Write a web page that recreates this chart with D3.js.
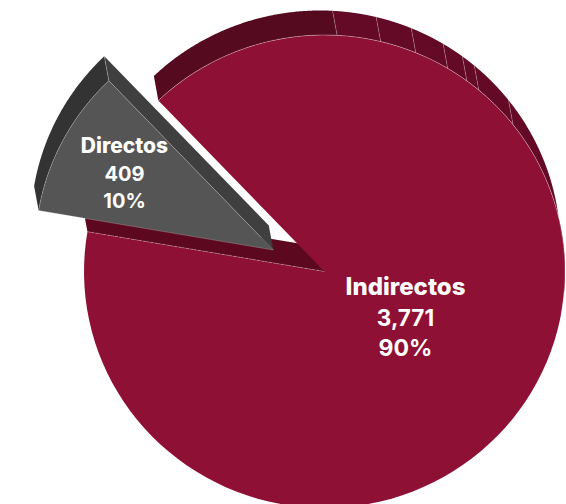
<!DOCTYPE html>
<html><head><meta charset="utf-8">
<script src="https://cdnjs.cloudflare.com/ajax/libs/d3/7.8.5/d3.min.js"></script>
<style>html,body{margin:0;padding:0;background:#fff;overflow:hidden}svg{display:block}text{font-family:Inter,Roboto,sans-serif;font-weight:800;fill:#fff;text-anchor:middle}text.num{font-weight:700}</style>
</head><body><svg id="c" width="566" height="504"></svg>
<script>
const categories = ["Directos", "Indirectos"];
const values = [409, 3771];
const percentLabels = ["10%", "90%"];
const seamDegrees = [3, 13.5, 22.3, 30.8, 36.3, 39.9, 51.6];

const cx = 324.5, cy = 271.5, rx = 240.5, ry = 236.5;
const depth = {x: -4.5, y: -24.5};
const explode = {x: -51.2, y: -21.5, k: 0.99};
const rad = d => d * Math.PI / 180;

const pie = d3.pie().sort(null)(values);
const total = d3.sum(values);
// fraction of the total -> clock angle, calibrated to the picture's slight perspective
const angle = d3.scaleLinear().domain([0, values[0] / total, 1]).range([rad(-80.3), rad(-43.7), rad(279.7)]);
const slices = pie.map(p => ({a0: angle(p.startAngle / (2 * Math.PI)), a1: angle(p.endAngle / (2 * Math.PI))}));

const svg = d3.select("#c");
const line = d3.line();
const zero = {x: 0, y: 0};
const pt = (a, o = zero, k = 1) => [cx + o.x + k * rx * Math.sin(a), cy + o.y - k * ry * Math.cos(a)];
const apex = o => [cx + o.x, cy + o.y];
const sweep = (a0, a1, o, k) => d3.range(0, 121).map(i => pt(a0 + (a1 - a0) * i / 120, o, k));
const seamColor = "rgba(255,255,255,0.32)", edge = "rgba(255,255,255,0.42)";

const m = slices[1];

// Indirectos: inner wall
svg.append("path").attr("d", line([apex(zero), pt(m.a1), pt(m.a1, depth), apex(depth)]) + "Z").attr("fill", "#5c0920");

// Indirectos: outer wall, split at the seams
const stops = [m.a0, ...seamDegrees.map(rad), rad(95)];
const wallColors = ["#560a20", "#640a26", "#640a26", "#640a26", "#640a26", "#640a26", "#640a26", "#640a26"];
d3.pairs(stops).forEach(([a, b], i) => {
  svg.append("path")
    .attr("d", line([...sweep(a, b, zero), ...sweep(b, a, depth)]) + "Z")
    .attr("fill", wallColors[i]);
});
seamDegrees.map(rad).forEach(a => {
  svg.append("path").attr("d", line([pt(a), pt(a, depth)])).attr("stroke", seamColor).attr("stroke-width", 0.7).attr("fill", "none");
});

// Indirectos: face
svg.append("path")
  .attr("d", line([apex(zero), ...sweep(m.a0, m.a1, zero)]) + "Z")
  .attr("fill", "#8f1035");
svg.append("path")
  .attr("d", line(sweep(m.a0, rad(100), zero)))
  .attr("fill", "none").attr("stroke", edge).attr("stroke-width", 0.7);
svg.append("path")
  .attr("d", line([pt(m.a1), apex(zero)]))
  .attr("fill", "none").attr("stroke", edge).attr("stroke-width", 0.7).attr("stroke-dasharray", "3 1");

// Directos: exploded wedge
const d0 = slices[0], back = {x: explode.x + depth.x, y: explode.y + depth.y}, kk = explode.k;
svg.append("path").attr("d", line([apex(explode), pt(d0.a1, explode, kk), pt(d0.a1, back, kk), apex(back)]) + "Z").attr("fill", "#3f3f3f");
svg.append("path").attr("d", line([...sweep(d0.a0, d0.a1, explode, kk), ...sweep(d0.a1, d0.a0, back, kk)]) + "Z").attr("fill", "#333333");
svg.append("path").attr("d", line([pt(d0.a1, explode, kk), pt(d0.a1, back, kk)])).attr("stroke", "rgba(255,255,255,0.4)").attr("stroke-width", 0.7).attr("fill", "none");
svg.append("path").attr("d", line([apex(explode), pt(d0.a0, explode, kk), ...sweep(d0.a0, d0.a1, explode, kk)]) + "Z")
  .attr("fill", "#555555").attr("stroke", "rgba(255,255,255,0.38)").attr("stroke-width", 0.6);

// Labels
const fmt = d3.format(",");
const labelSpecs = [
  {x: 124.5, sizes: [21, 20, 20], ys: [153, 180.5, 207.5]},
  {x: 405.5, sizes: [24, 22.5, 23], ys: [295, 326, 356]}
];
categories.forEach((c, i) => {
  [c, fmt(values[i]), percentLabels[i]].forEach((t, j) => {
    svg.append("text").attr("class", j ? "num" : null)
      .attr("x", labelSpecs[i].x).attr("y", labelSpecs[i].ys[j])
      .attr("font-size", labelSpecs[i].sizes[j]).text(t);
  });
});
</script></body></html>
